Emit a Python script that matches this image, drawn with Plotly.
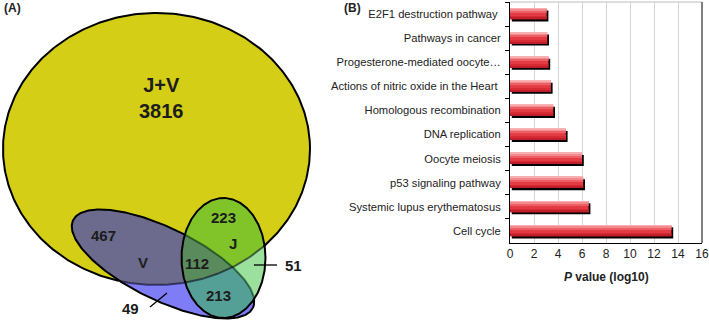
import numpy as np
import plotly.graph_objects as go

# ---------------- data ----------------
pathways = [
    "E2F1 destruction pathway\u00a0",
    "Pathways in cancer",
    "Progesterone-mediated oocyte…",
    "Actions of nitric oxide in the Heart\u00a0",
    "Homologous recombination",
    "DNA replication",
    "Oocyte meiosis",
    "p53 signaling pathway",
    "Systemic lupus erythematosus",
    "Cell cycle",
]
log_p = [3.05, 3.1, 3.2, 3.4, 3.6, 4.65, 6.0, 6.1, 6.55, 13.45]
x_ticks = [0, 2, 4, 6, 8, 10, 12, 14, 16]

venn_labels = ["J+V<br>3816", "467", "V", "112", "223", "J", "213", "51", "49"]

# ---------------- venn geometry (pixel space) ----------------
ELL_Y = (156.5, 149.0, 153.5, 136.0, 0.0)
ELL_V = (163.0, 264.0, 100.0, 36.0, 26.0)
ELL_J = (223.5, 258.0, 42.0, 60.0, 0.0)

FONT = "Liberation Sans, Arial, sans-serif"


def ellipse_pts(e, n=400):
    cx, cy, a, b, ang = e
    t = np.linspace(0, 2 * np.pi, n, endpoint=False)
    th = np.deg2rad(ang)
    x = cx + a * np.cos(t) * np.cos(th) - b * np.sin(t) * np.sin(th)
    y = cy + a * np.cos(t) * np.sin(th) + b * np.sin(t) * np.cos(th)
    return list(zip(x, y))


def in_ellipse(p, e):
    cx, cy, a, b, ang = e
    th = np.deg2rad(ang)
    dx, dy = p[0] - cx, p[1] - cy
    u = dx * np.cos(th) + dy * np.sin(th)
    v = -dx * np.sin(th) + dy * np.cos(th)
    return (u / a) ** 2 + (v / b) ** 2 < 1.0


def clip(subject, clipper):
    area = sum(clipper[i][0] * clipper[(i + 1) % len(clipper)][1]
               - clipper[(i + 1) % len(clipper)][0] * clipper[i][1]
               for i in range(len(clipper)))
    if area < 0:
        clipper = clipper[::-1]

    def inside(p, a, b):
        return (b[0] - a[0]) * (p[1] - a[1]) - (b[1] - a[1]) * (p[0] - a[0]) >= 0

    def inter(s, p, a, b):
        x1, y1 = s; x2, y2 = p; x3, y3 = a; x4, y4 = b
        den = (x1 - x2) * (y3 - y4) - (y1 - y2) * (x3 - x4)
        if abs(den) < 1e-12:
            return p
        t = ((x1 - x3) * (y3 - y4) - (y1 - y3) * (x3 - x4)) / den
        return (x1 + t * (x2 - x1), y1 + t * (y2 - y1))

    out = list(subject)
    n = len(clipper)
    for i in range(n):
        a, b = clipper[i], clipper[(i + 1) % n]
        inp, out = out, []
        if not inp:
            break
        s = inp[-1]
        for p in inp:
            if inside(p, a, b):
                if not inside(s, a, b):
                    out.append(inter(s, p, a, b))
                out.append(p)
            elif inside(s, a, b):
                out.append(inter(s, p, a, b))
            s = p
    return out


def fill_trace(poly, color):
    xs = [p[0] for p in poly] + [poly[0][0]]
    ys = [p[1] for p in poly] + [poly[0][1]]
    return go.Scatter(x=xs, y=ys, fill="toself", fillcolor=color, mode="none",
                      xaxis="x2", yaxis="y2", hoverinfo="skip")


def outline_traces(poly, covers, out_color, in_color, width=2):
    pts = poly + [poly[0]]
    mask = [any(in_ellipse(p, e) for e in covers) for p in pts]
    groups = {True: ([], []), False: ([], [])}
    i = 0
    while i < len(pts) - 1:
        m = mask[i]
        j = i
        seg = [pts[i]]
        while j < len(pts) - 1 and mask[j] == m:
            j += 1
            seg.append(pts[j])
        gx, gy = groups[m]
        gx.extend([p[0] for p in seg] + [None])
        gy.extend([p[1] for p in seg] + [None])
        i = j
    res = []
    for m, col in ((False, out_color), (True, in_color)):
        gx, gy = groups[m]
        if gx:
            res.append(go.Scatter(x=gx, y=gy, mode="lines",
                                  line=dict(color=col, width=width),
                                  xaxis="x2", yaxis="y2", hoverinfo="skip"))
    return res


Y = ellipse_pts(ELL_Y)
V = ellipse_pts(ELL_V)
J = ellipse_pts(ELL_J)
VY = clip(V, Y)
JY = clip(J, Y)
JV = clip(J, V)
JVY = clip(JV, Y)

fig = go.Figure()
fig.add_trace(fill_trace(Y, "#d5ce17"))
fig.add_trace(fill_trace(V, "#7e7df6"))
fig.add_trace(fill_trace(VY, "#6c6b8d"))
fig.add_trace(fill_trace(J, "#9be09c"))
fig.add_trace(fill_trace(JY, "#80c42a"))
fig.add_trace(fill_trace(JV, "#55a096"))
fig.add_trace(fill_trace(JVY, "#5a8b5c"))
for t in outline_traces(Y, [ELL_V, ELL_J], "#000000", "rgba(0,0,30,0.55)"):
    fig.add_trace(t)
for t in outline_traces(V, [ELL_J], "#000000", "rgba(0,40,0,0.55)"):
    fig.add_trace(t)
for t in outline_traces(J, [], "#000000", "#000000"):
    fig.add_trace(t)

# leader lines
fig.add_trace(go.Scatter(x=[254, 277, None, 150, 167], y=[265, 265, None, 307, 293],
                         mode="lines", line=dict(color="#000", width=1.3),
                         xaxis="x2", yaxis="y2", hoverinfo="skip"))

venn_pos = [(161, 98), (103, 235), (143, 262), (197, 263), (223, 217),
            (233, 243), (218, 295), (293, 265), (130, 308)]
for lab, (px, py) in zip(venn_labels, venn_pos):
    big = "3816" in lab
    fig.add_annotation(x=px, y=py, xref="x2", yref="y2", text="<b>" + lab + "</b>",
                       showarrow=False,
                       font=dict(family=FONT, size=20 if big else 15, color="#1c1c1c"),
                       xanchor="center", yanchor="middle")

# ---------------- bar chart ----------------
shadow_shift = 0.15
fig.add_trace(go.Bar(y=pathways, x=log_p, base=shadow_shift, orientation="h",
                     marker=dict(color="#000000", line=dict(width=0)),
                     width=0.46, offset=-0.15, hoverinfo="skip"))
strips = [(-0.24, 0.46, "#e33a43"), (-0.24, 0.07, "#f7b0b2"), (-0.17, 0.06, "#f38a8e"),
          (-0.11, 0.06, "#ec5f65"), (0.10, 0.06, "#d52c35"), (0.16, 0.06, "#c01f28")]
for off, w, col in strips:
    fig.add_trace(go.Bar(y=pathways, x=log_p, orientation="h",
                         marker=dict(color=col, line=dict(width=0)),
                         width=w, offset=off, hoverinfo="skip"))

W, H = 709, 320
fig.update_layout(
    width=W, height=H, margin=dict(l=0, r=0, t=0, b=0, autoexpand=False),
    paper_bgcolor="white", plot_bgcolor="rgba(0,0,0,0)",
    showlegend=False, barmode="overlay",
    font=dict(family=FONT, color="#222"),
    xaxis=dict(domain=[510 / W, 702 / W], range=[0, 16], tickvals=x_ticks,
               showgrid=True, gridcolor="#d6d6d6", gridwidth=1,
               showline=True, linecolor="#000", linewidth=1,
               ticks="", tickfont=dict(size=12, color="#222"), zeroline=False,
               anchor="y", automargin=False),
    yaxis=dict(domain=[1 - 243 / H, 1 - 2 / H], type="category",
               categoryorder="array", categoryarray=pathways, autorange="reversed",
               showline=True, linecolor="#000", linewidth=1,
               ticks="outside", tickson="boundaries", ticklen=4, tickcolor="#000",
               tickfont=dict(size=11.2, color="#222"), ticklabelstandoff=6,
               showgrid=False, anchor="x", automargin=False),
    xaxis2=dict(domain=[0, 347 / W], range=[0, 347], visible=False, anchor="y2",
                automargin=False),
    yaxis2=dict(domain=[0, 1], range=[H, 0], visible=False, anchor="x2",
                automargin=False),
)

# frame lines (top light, right dark)
fig.add_shape(type="line", xref="x domain", yref="y domain", x0=0, x1=1, y0=1, y1=1,
              line=dict(color="#bdbdbd", width=1))
fig.add_shape(type="line", xref="x domain", yref="y domain", x0=1, x1=1, y0=0, y1=1,
              line=dict(color="#555555", width=1.5))

fig.add_annotation(x=606 / W, y=1 - 277 / H, xref="paper", yref="paper",
                   text="<b><i>P</i> value (log10)</b>", showarrow=False,
                   font=dict(family=FONT, size=12, color="#222"),
                   xanchor="center", yanchor="middle")
fig.add_annotation(x=2 / W, y=1 - 8 / H, xref="paper", yref="paper", text="<b>(A)</b>",
                   showarrow=False, font=dict(family=FONT, size=12, color="#222"),
                   xanchor="left", yanchor="middle")
fig.add_annotation(x=342 / W, y=1 - 8 / H, xref="paper", yref="paper", text="<b>(B)</b>",
                   showarrow=False, font=dict(family=FONT, size=12, color="#222"),
                   xanchor="left", yanchor="middle")

fig.write_html("out.html", config={"displayModeBar": False},
               post_script="document.body.style.margin='0';")
